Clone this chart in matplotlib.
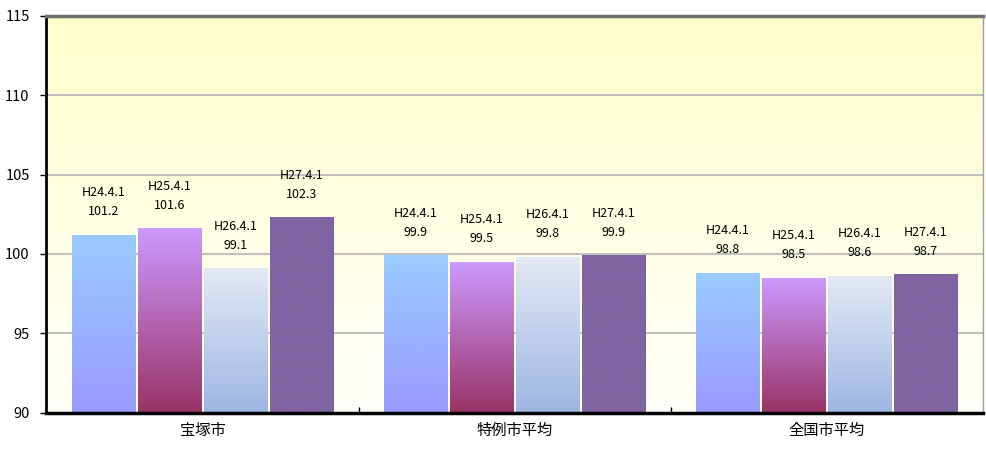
import numpy as np
import matplotlib.pyplot as plt
from matplotlib.colors import to_rgb

plt.rcParams['font.family'] = ['Noto Sans CJK JP', 'DejaVu Sans']

# データ
groups = ['宝塚市', '特例市平均', '全国市平均']
dates = ['H24.4.1', 'H25.4.1', 'H26.4.1', 'H27.4.1']
values = [
    [101.2, 101.6, 99.1, 102.3],
    [99.9, 99.5, 99.8, 99.9],
    [98.8, 98.5, 98.6, 98.7],
]
yticks = [90, 95, 100, 105, 110, 115]

# 系列ごとのグラデーション (上, 下)
bar_colors = [
    ('#99CCFF', '#9999FF'),
    ('#CC99FF', '#993366'),
    ('#E3E9F5', '#9DB6E2'),
    ('#8064A2', '#8064A2'),
]


def gradient(top, bottom, n=256):
    t = np.linspace(0, 1, n)[:, None]
    c1 = np.array(to_rgb(top))
    c2 = np.array(to_rgb(bottom))
    return (c1 * (1 - t) + c2 * t)[:, None, :]


fig = plt.figure(figsize=(9.86, 4.5), dpi=100)
ax = fig.add_axes([0.047, 0.083, 0.950, 0.882])

# 背景グラデーション
ax.imshow(gradient('#FFFFCC', '#FFFFFA'), extent=[0, 1, 0, 1], transform=ax.transAxes,
          aspect='auto', zorder=0)

ymin, ymax = 90, 115
slot = 0.2115
width = 0.202
x = np.arange(len(groups))

for gi, vals in enumerate(values):
    for si, v in enumerate(vals):
        cx = x[gi] + (si - 1.5) * slot
        top, bottom = bar_colors[si]
        ax.imshow(gradient(top, bottom), extent=[cx - width / 2, cx + width / 2, ymin, v],
                  aspect='auto', zorder=2)
        ax.annotate(f'{dates[si]}\n{v}', xy=(cx, v), xytext=(0, 12), textcoords='offset points',
                    ha='center', va='bottom', fontsize=9, linespacing=1.6, zorder=3)

ax.set_xlim(-0.5, len(groups) - 0.5)
ax.set_ylim(ymin, ymax)
ax.set_yticks(yticks)
ax.set_yticklabels([str(t) for t in yticks], fontsize=10.5)
ax.set_xticks(x)
ax.set_xticklabels(groups, fontsize=11)
ax.set_xticks([0.5, 1.5], minor=True)
ax.tick_params(axis='x', which='major', length=0, pad=7)
ax.tick_params(axis='x', which='minor', direction='in', length=4, width=1)
ax.tick_params(axis='y', length=4, width=1, pad=8)

# グリッドは棒の後ろ
ax.set_axisbelow(True)
ax.yaxis.grid(True, color='#C0C0C0', linewidth=1.5)

ax.spines['left'].set_color('black')
ax.spines['left'].set_linewidth(2)
ax.spines['bottom'].set_color('black')
ax.spines['bottom'].set_linewidth(2.5)
ax.spines['top'].set_color('#707070')
ax.spines['top'].set_linewidth(2.5)
ax.spines['right'].set_color('#A0A0A0')
ax.spines['right'].set_linewidth(1)

plt.savefig('out.png', dpi=100)
